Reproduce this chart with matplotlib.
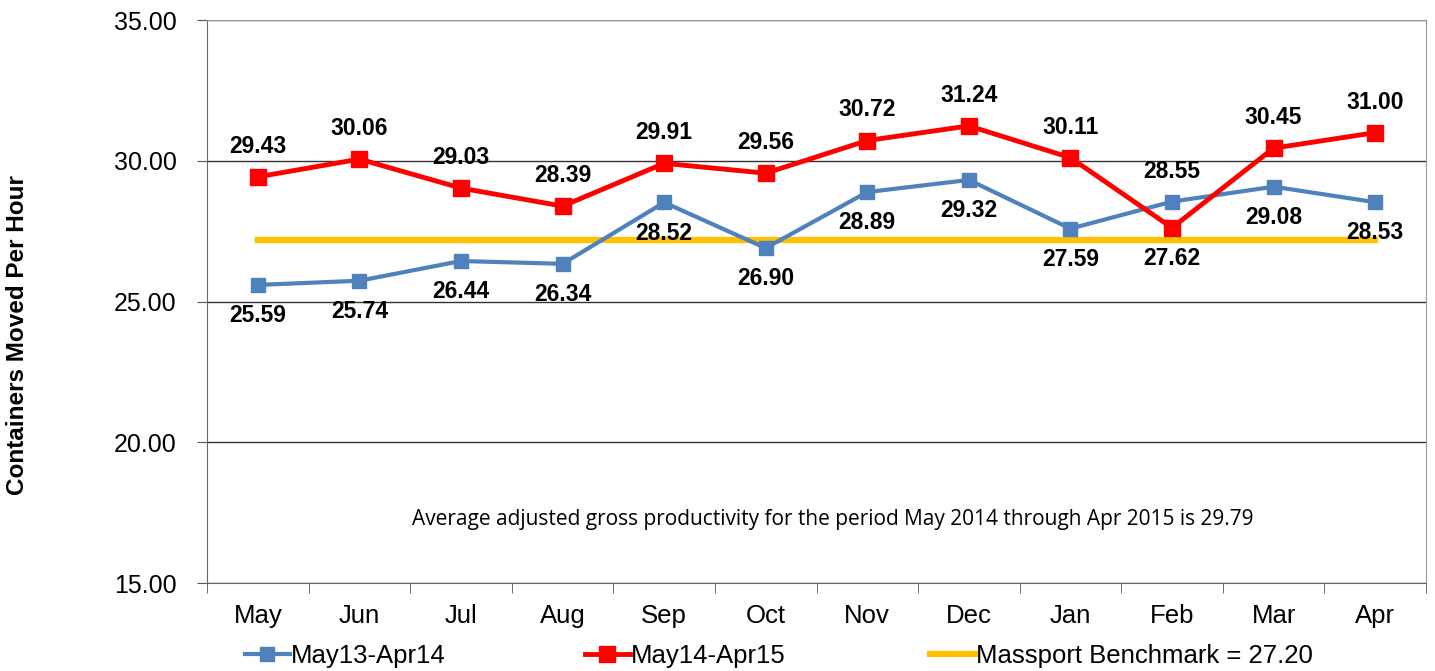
import numpy as np
import matplotlib.pyplot as plt

plt.rcParams['font.family'] = ['Liberation Sans', 'DejaVu Sans']

months = ['May', 'Jun', 'Jul', 'Aug', 'Sep', 'Oct', 'Nov', 'Dec', 'Jan', 'Feb', 'Mar', 'Apr']
prev_year = [25.59, 25.74, 26.44, 26.34, 28.52, 26.90, 28.89, 29.32, 27.59, 28.55, 29.08, 28.53]
this_year = [29.43, 30.06, 29.03, 28.39, 29.91, 29.56, 30.72, 31.24, 30.11, 27.62, 30.45, 31.00]
benchmark = 27.20
# label placement: 1 = above the point, -1 = below
prev_pos = [-1, -1, -1, -1, -1, -1, -1, -1, -1, 1, -1, -1]
this_pos = [1, 1, 1, 1, 1, 1, 1, 1, 1, -1, 1, 1]

fig = plt.figure(figsize=(14.35, 6.71), dpi=100)
ax = fig.add_axes([0.1443, 0.1311, 0.8494, 0.839])

x = np.arange(len(months))
bl, = ax.plot(x, [benchmark] * len(x), color='#FFC000', lw=4.5, zorder=2)
pl, = ax.plot(x, prev_year, color='#4F81BD', lw=3, marker='s', ms=10, zorder=3)
tl, = ax.plot(x, this_year, color='#FF0000', lw=3.5, marker='s', ms=11.5, zorder=4)

for xi, v, p in zip(x, prev_year, prev_pos):
    ax.annotate(f'{v:.2f}', (xi, v), xytext=(0, 22 * p), textcoords='offset points',
                ha='center', va='center', fontsize=16.5, fontweight='bold')
for xi, v, p in zip(x, this_year, this_pos):
    ax.annotate(f'{v:.2f}', (xi, v), xytext=(0, 22 * p), textcoords='offset points',
                ha='center', va='center', fontsize=16.5, fontweight='bold')

ax.set_xlim(-0.5, 11.5)
ax.set_ylim(15, 35)
ax.set_yticks([15, 20, 25, 30, 35])
ax.set_yticklabels([f'{t:.2f}' for t in [15, 20, 25, 30, 35]], fontsize=18)
ax.set_xticks(x)
ax.set_xticklabels(months, fontsize=18.5)
ax.set_xticks(np.arange(-0.5, 12, 1), minor=True)
ax.tick_params(axis='x', which='major', length=0, pad=15)
ax.tick_params(axis='x', which='minor', length=7, color='#555555')
ax.tick_params(axis='y', length=7, color='#555555', pad=15)
ax.grid(axis='y', color='#333333', lw=1)
ax.set_axisbelow(True)
for s in ['left', 'bottom']:
    ax.spines[s].set_color('#666666')
for s in ['top', 'right']:
    ax.spines[s].set_color('#999999')

ax.text(5.66, 17.25, 'Average adjusted gross productivity for the period May 2014 through Apr 2015 is 29.79',
        ha='center', va='center', fontsize=15, family=['Open Sans', 'DejaVu Sans'])

fig.text(0.0125, 0.5, 'Containers Moved Per Hour', rotation=90, ha='center', va='center',
         fontsize=17.5, fontweight='bold')

for handle, label, lx in [(pl, 'May13-Apr14', 245), (tl, 'May14-Apr15', 585),
                          (bl, 'Massport Benchmark = 27.20', 930)]:
    fig.legend([handle], [label], loc='center left', bbox_to_anchor=(lx / 1435, 1 - 656 / 671),
               frameon=False, fontsize=18.5, borderpad=0, borderaxespad=0,
               handlelength=1.75, handletextpad=0.05)

fig.savefig('out.png', dpi=100)
